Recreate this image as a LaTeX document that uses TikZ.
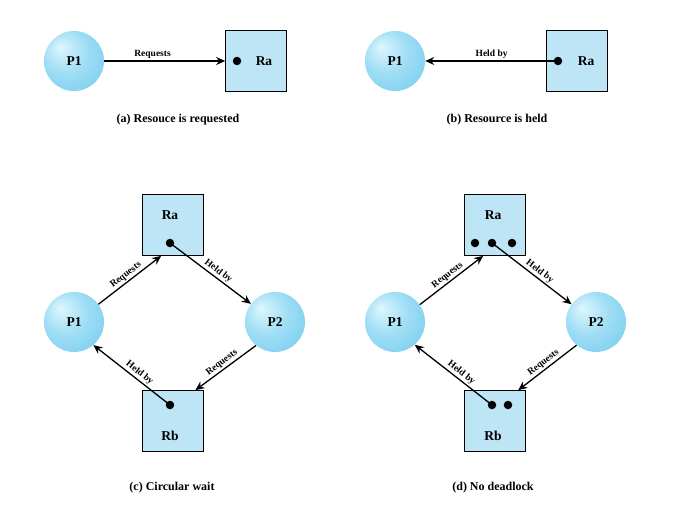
\documentclass[tikz,border=0pt]{standalone}
\usepackage{fontspec}
\setmainfont{Liberation Serif}
\usetikzlibrary{arrows.meta}
\definecolor{resfill}{RGB}{190,229,245}
\definecolor{procin}{RGB}{222,246,253}
\definecolor{procmid}{RGB}{160,222,245}
\definecolor{procout}{RGB}{118,204,238}
\pgfdeclareradialshading{procshade}{\pgfpoint{-12bp}{12bp}}{color(0bp)=(procin); color(18bp)=(procmid); color(38bp)=(procout); color(50bp)=(procout)}
\tikzset{
	proc/.style={circle, minimum size=60pt, inner sep=0pt, shading=procshade, font=\fontsize{13.5}{13.5}\selectfont\bfseries},
	res/.style={draw, line width=0.7pt, fill=resfill, minimum width=61pt, minimum height=61pt, inner sep=0pt},
	resname/.style={font=\fontsize{13.5}{13.5}\selectfont\bfseries},
	resdot/.style={circle, fill, inner sep=0pt, minimum size=8.5pt},
	req/.style={line width=1.3pt, -{Stealth[length=9pt,width=8pt]}},
	elabel/.style={font=\fontsize{9.5}{9.5}\selectfont\bfseries, sloped, above, inner sep=1.5pt},
	caption/.style={font=\fontsize{12}{12}\selectfont\bfseries}
}
\begin{document}
\begin{tikzpicture}[x=1pt, y=-1pt]
	\useasboundingbox (0, 0) rectangle (683, 514);
	% (a) resource is requested
	\node[proc] (p1a) at (74, 61) {P1};
	\node[res] (raa) at (256, 61) {};
	\node[resdot] (dotraa) at (237, 61) {};
	\node[resname] (nraa) at (264, 61) {Ra};
	\draw[req] (p1a) -- (raa) node[elabel, pos=0.4] {Requests};
	\node[caption] (capa) at (178, 120) {(a) Resouce is requested};
	% (b) resource is held
	\node[proc] (p1b) at (395, 61) {P1};
	\node[res] (rab) at (577, 61) {};
	\node[resdot] (dotrab) at (558, 61) {};
	\node[resname] (nrab) at (586, 61) {Ra};
	\draw[req] (dotrab.center) -- (p1b) node[elabel, pos=0.5] {Held by};
	\node[caption] (capb) at (497, 120) {(b) Resource is held};
	% (c) circular wait
	\node[proc] (p1c) at (74, 322) {P1};
	\node[proc] (p2c) at (275, 322) {P2};
	\node[res] (rac) at (173, 225) {};
	\node[res] (rbc) at (173, 421) {};
	\node[resname] (nrac) at (170, 215) {Ra};
	\node[resname] (nrbc) at (170, 436) {Rb};
	\node[resdot] (dotrac) at (170, 243) {};
	\node[resdot] (dotrbc) at (170, 405) {};
	\draw[req] (p1c.36) -- (rac.-111) node[elabel, midway] {Requests};
	\draw[req] (dotrac.center) -- (p2c.143) node[elabel, pos=0.55] {Held by};
	\draw[req] (p2c.-129) -- (rbc.54) node[elabel, midway] {Requests};
	\draw[req] (dotrbc.center) -- (p1c.-50) node[elabel, pos=0.45] {Held by};
	\node[caption] (capc) at (172, 488) {(c) Circular wait};
	% (d) no deadlock
	\node[proc] (p1d) at (395, 322) {P1};
	\node[proc] (p2d) at (596, 322) {P2};
	\node[res] (rad) at (495, 225) {};
	\node[res] (rbd) at (495, 421) {};
	\node[resname] (nrad) at (493, 215) {Ra};
	\node[resname] (nrbd) at (493, 436) {Rb};
	\foreach \x [count=\i] in {475, 492, 512}{
		\node[resdot] (dotrad\i) at (\x, 243) {};
	}
	\foreach \x [count=\i] in {492, 508}{
		\node[resdot] (dotrbd\i) at (\x, 405) {};
	}
	\draw[req] (p1d.35) -- (rad.-111) node[elabel, midway] {Requests};
	\draw[req] (dotrad2.center) -- (p2d.144) node[elabel, pos=0.55] {Held by};
	\draw[req] (p2d.-130) -- (rbd.53) node[elabel, midway] {Requests};
	\draw[req] (dotrbd1.center) -- (p1d.-49) node[elabel, pos=0.45] {Held by};
	\node[caption] (capd) at (493, 488) {(d) No deadlock};
\end{tikzpicture}
\end{document}
